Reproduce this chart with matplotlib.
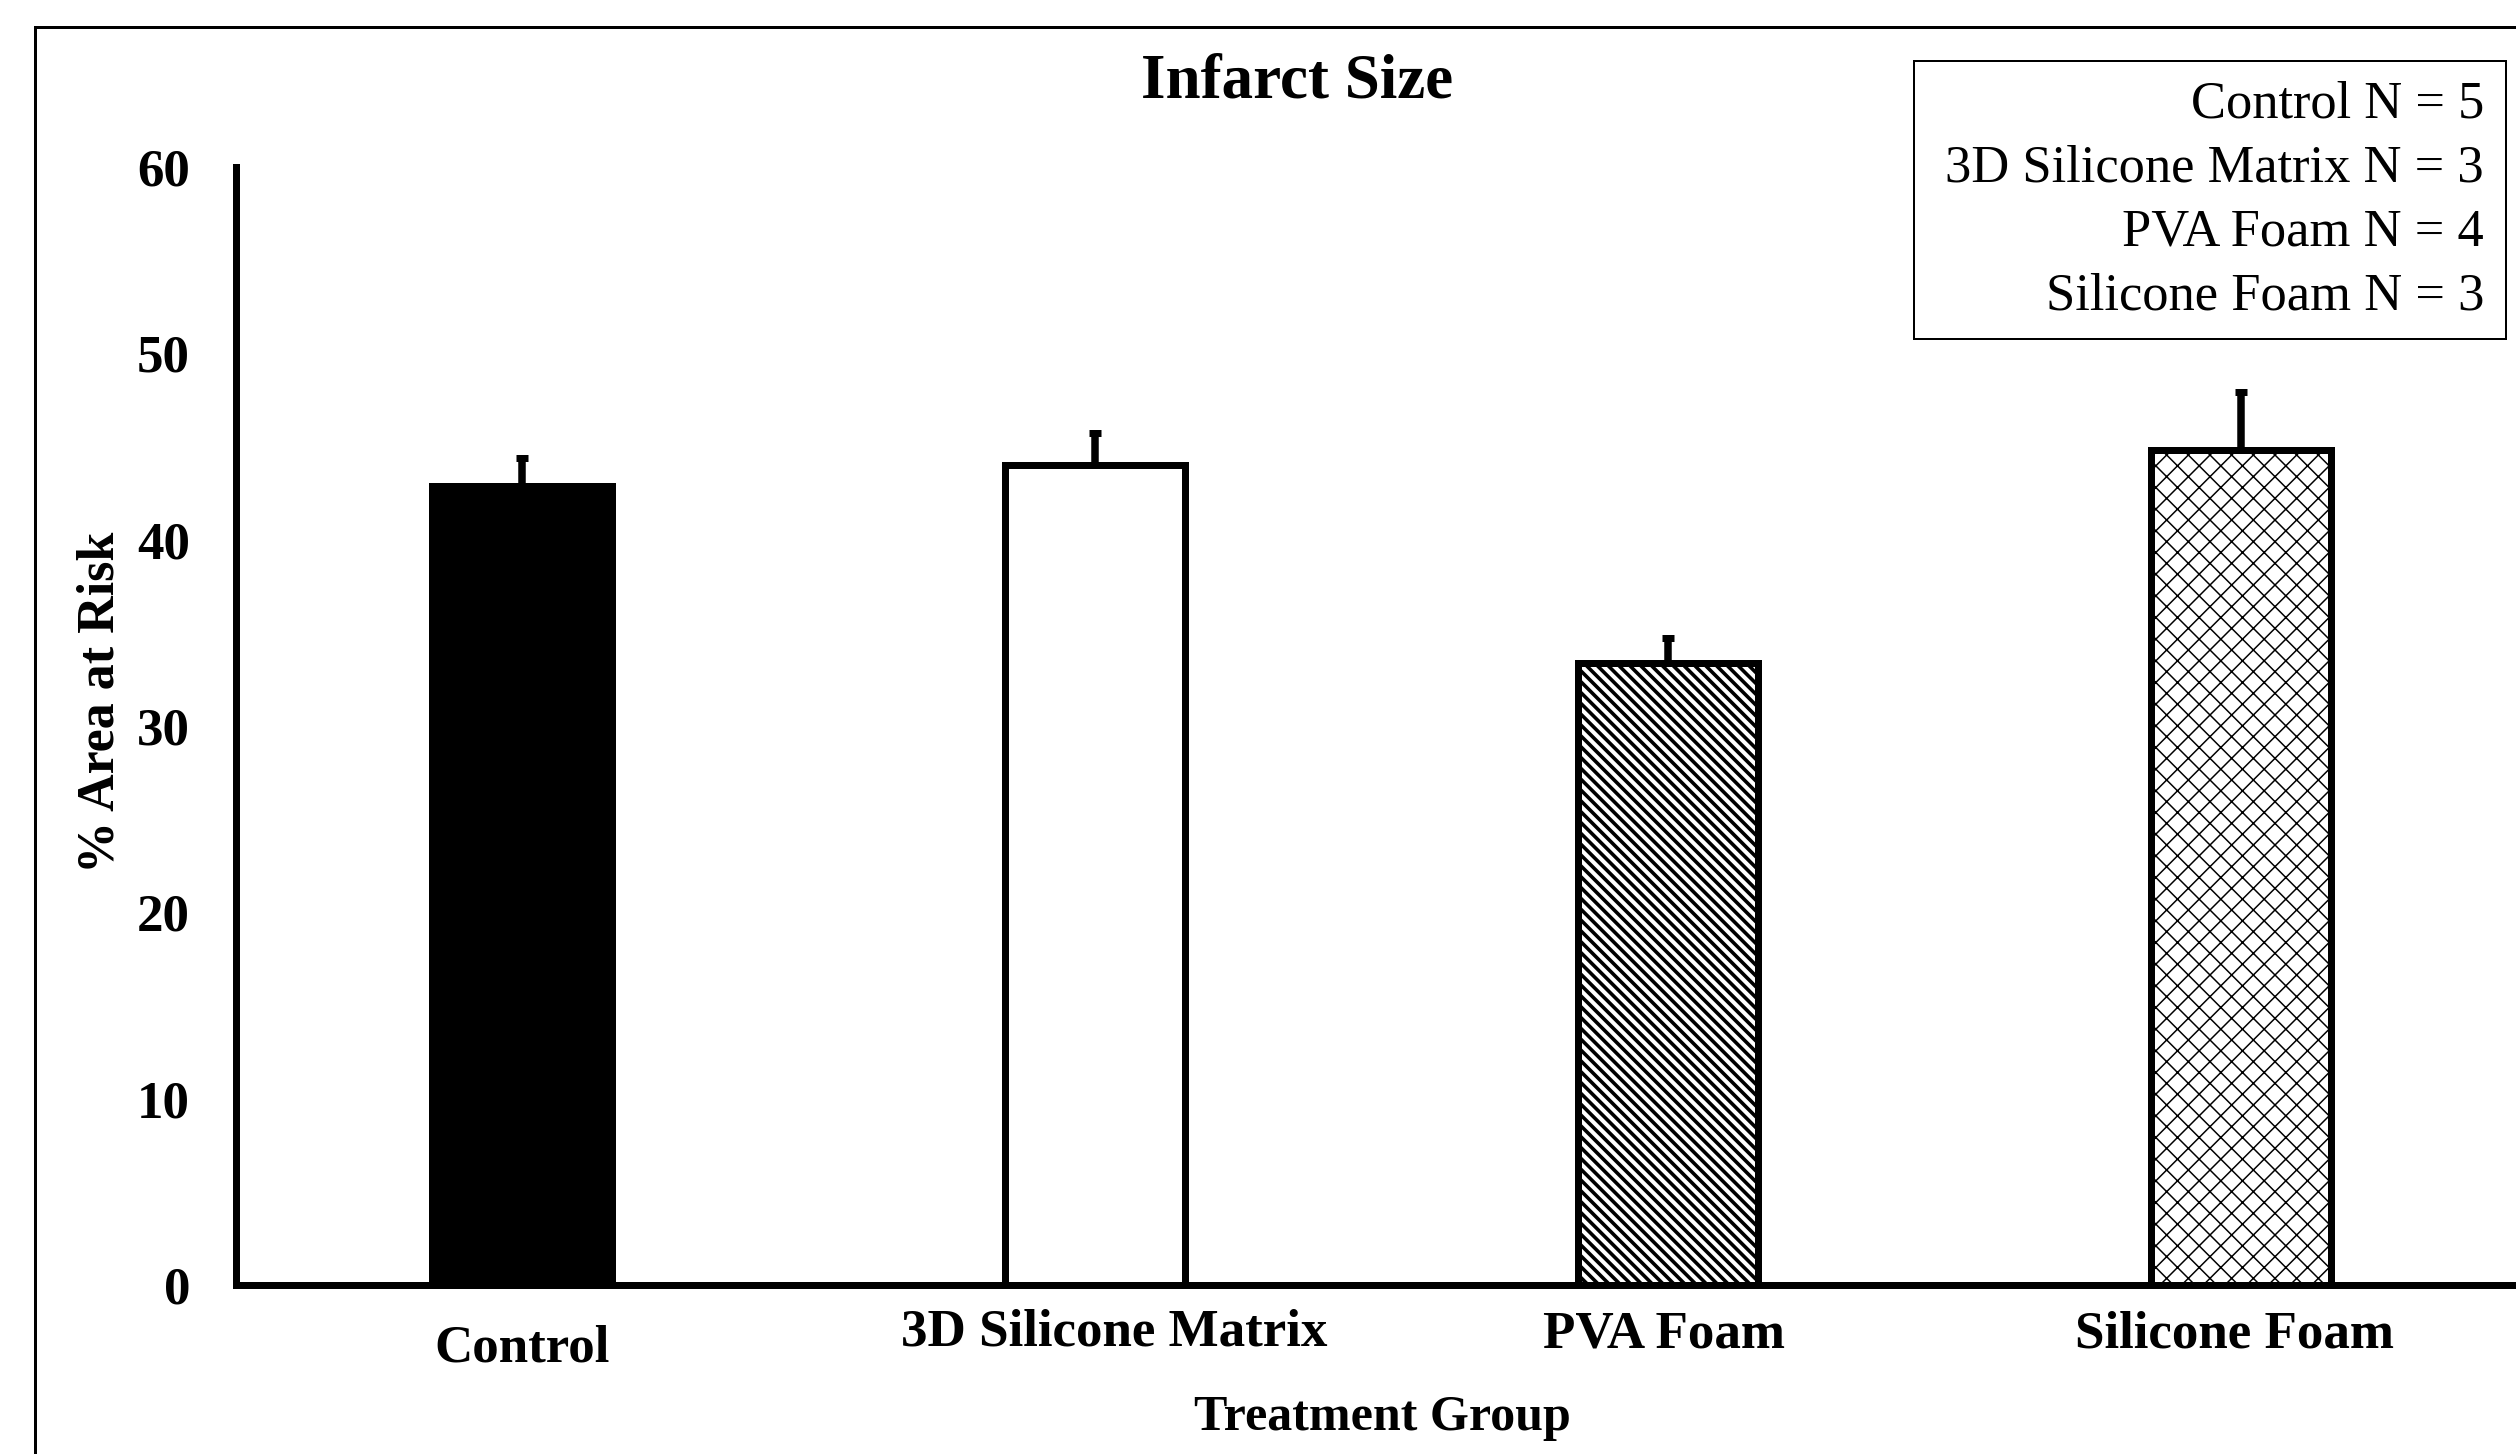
import matplotlib
matplotlib.use("Agg")
import matplotlib.pyplot as plt
from matplotlib.patches import Rectangle
import numpy as np

# data
groups = ["Control", "3D Silicone Matrix", "PVA Foam", "Silicone Foam"]
means = [42.9, 44.0, 33.4, 44.8]
sem = [1.5, 1.7, 1.3, 3.1]
n_counts = [5, 3, 4, 3]
yticks = [0, 10, 20, 30, 40, 50, 60]

fills = ["black", "white", "white", "white"]
hatches = [None, None, "\\\\\\\\", "xx"]

plt.rcParams['font.family'] = ['Liberation Serif', 'DejaVu Serif']

dpi = 130
W, H = 2516, 1454


def pt(px):
    # pixel size -> points at this dpi
    return px * 72.0 / dpi


hatch_lw = [pt(1), pt(1), pt(3.6), pt(1.5)]

fig = plt.figure(figsize=(W / dpi, H / dpi), dpi=dpi, facecolor='white')

# outer frame (cut off at right and bottom)
fig.patches.append(Rectangle((35 / W, -0.1), 1.2, 1 - 27 / H + 0.1, transform=fig.transFigure,
                             fill=False, edgecolor='black', linewidth=pt(3)))

ax = fig.add_axes([236 / W, 169 / H, (2527 - 236) / W, (1287 - 169) / H])
x = np.arange(len(groups))

ax.errorbar(x, means, yerr=[[0] * len(sem), sem], fmt='none', ecolor='black',
            elinewidth=pt(7.5), capsize=pt(6), capthick=pt(7), zorder=1)
for i in range(len(groups)):
    plt.rcParams['hatch.linewidth'] = hatch_lw[i]
    b = ax.bar(x[i], means[i], width=0.314, color=fills[i], edgecolor='black',
               linewidth=pt(7), hatch=hatches[i], zorder=2)
    for p in b:
        try:
            p.set_hatch_linewidth(hatch_lw[i])
        except AttributeError:
            pass

ax.set_xlim(-0.5, 3.5)
ax.set_ylim(0, 60)
ax.set_yticks(yticks)
ax.set_yticklabels([str(t) for t in yticks], fontsize=pt(53), fontweight='bold')
ax.tick_params(axis='y', length=0, pad=pt(46))
ax.set_xticks([])
for s in ['top', 'right']:
    ax.spines[s].set_visible(False)
ax.spines['left'].set_linewidth(pt(7))
ax.spines['bottom'].set_linewidth(pt(7))

# category labels, placed individually like in the original
label_dx = [0, 19, -4, -6]
label_dy = [64, 47, 50, 50]
for i, g in enumerate(groups):
    ax.annotate(g, xy=(x[i], 0), xycoords=('data', 'axes fraction'),
                xytext=(pt(label_dx[i]), -pt(label_dy[i])), textcoords='offset points',
                ha='center', va='center', fontsize=pt(53), fontweight='bold')

fig.text(1382 / W, 1 - 1418 / H, "Treatment Group", ha='center', va='center',
         fontsize=pt(50), fontweight='bold')
fig.text(101 / W, 1 - 702 / H, "% Area at Risk", ha='center', va='center',
         rotation=90, fontsize=pt(52), fontweight='bold')
fig.text(1297 / W, 1 - 83 / H, "Infarct Size", ha='center', va='center',
         fontsize=pt(63), fontweight='bold')

# N box
fig.patches.append(Rectangle((1914 / W, 1 - 339 / H), (2506 - 1914) / W, (339 - 61) / H,
                             transform=fig.transFigure, fill=False, edgecolor='black',
                             linewidth=pt(2)))
line_y = [104, 168, 233, 297]
for g, n, yy in zip(groups, n_counts, line_y):
    fig.text(2484 / W, 1 - yy / H, f"{g} N = {n}", ha='right', va='center', fontsize=pt(52.5))

fig.savefig("out.png", dpi=dpi, facecolor='white')
